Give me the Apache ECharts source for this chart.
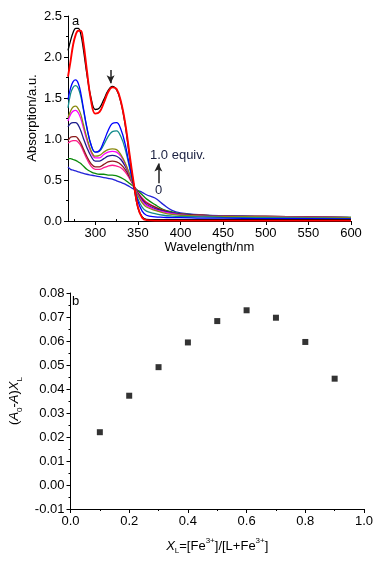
<!DOCTYPE html>
<html><head><meta charset="utf-8">
<script src="https://cdn.jsdelivr.net/npm/echarts@6/dist/echarts.min.js"></script>
<style>html,body{margin:0;padding:0;background:#fff}#c{width:386px;height:567px}</style>
</head><body><div id="c"></div>
<script>
// ---- Panel a: UV-vis titration spectra ----
const wavelengths = [268,271,274,277,280,283,286,290,295,300,305,310,315,320,325,330,335,340,345,350,355,360,370,380,390,400,425,450,500,550,600];
const specBlack   = [2.08,2.20,2.30,2.35,2.35,2.28,2.10,1.80,1.50,1.36,1.38,1.48,1.59,1.64,1.60,1.45,1.18,0.80,0.45,0.16,0.05,0.02,0.015,0.015,0.015,0.015,0.015,0.015,0.015,0.015,0.015];
const specRed     = [1.76,1.95,2.15,2.27,2.32,2.32,2.18,1.85,1.47,1.31,1.33,1.44,1.57,1.63,1.61,1.46,1.20,0.83,0.47,0.17,0.04,0.01,0.005,0.005,0.005,0.005,0.005,0.005,0.005,0.005,0.005];
const specBlue    = [1.48,1.62,1.70,1.72,1.68,1.56,1.38,1.15,0.93,0.84,0.86,0.97,1.10,1.19,1.20,1.12,0.94,0.68,0.44,0.24,0.12,0.07,0.05,0.045,0.04,0.04,0.035,0.035,0.03,0.03,0.025];
const specTeal    = [1.38,1.55,1.63,1.65,1.62,1.52,1.36,1.14,0.93,0.84,0.85,0.93,1.03,1.09,1.10,1.03,0.88,0.66,0.44,0.27,0.17,0.12,0.09,0.07,0.06,0.055,0.05,0.045,0.04,0.035,0.03];
const specOlive   = [1.26,1.34,1.39,1.40,1.37,1.30,1.18,1.02,0.86,0.79,0.80,0.84,0.87,0.88,0.87,0.81,0.71,0.58,0.43,0.31,0.22,0.17,0.13,0.10,0.08,0.07,0.06,0.055,0.05,0.045,0.04];
const specMagenta = [1.22,1.30,1.34,1.35,1.32,1.25,1.14,0.99,0.84,0.77,0.77,0.81,0.84,0.85,0.84,0.79,0.70,0.57,0.43,0.32,0.24,0.19,0.14,0.11,0.09,0.075,0.06,0.055,0.05,0.045,0.04];
const specNavy    = [1.15,1.19,1.20,1.20,1.17,1.10,1.01,0.90,0.79,0.73,0.73,0.76,0.79,0.80,0.79,0.75,0.67,0.56,0.43,0.33,0.25,0.20,0.15,0.12,0.10,0.08,0.065,0.06,0.05,0.045,0.04];
const specMaroon  = [0.98,1.02,1.03,1.03,1.00,0.95,0.88,0.79,0.70,0.66,0.66,0.69,0.72,0.73,0.72,0.69,0.63,0.54,0.43,0.34,0.27,0.22,0.17,0.13,0.10,0.085,0.07,0.06,0.055,0.05,0.04];
const specPink    = [0.95,0.97,0.98,0.98,0.96,0.92,0.85,0.76,0.67,0.63,0.63,0.65,0.67,0.68,0.67,0.65,0.60,0.52,0.43,0.35,0.28,0.23,0.17,0.13,0.10,0.085,0.07,0.06,0.055,0.05,0.04];
const specGreen   = [0.76,0.76,0.75,0.74,0.72,0.70,0.67,0.63,0.60,0.58,0.57,0.57,0.56,0.56,0.55,0.53,0.50,0.46,0.42,0.37,0.32,0.27,0.20,0.14,0.11,0.09,0.07,0.06,0.055,0.05,0.045];
const specRoyal   = [0.66,0.63,0.62,0.61,0.60,0.59,0.58,0.57,0.56,0.55,0.54,0.53,0.52,0.51,0.49,0.47,0.45,0.42,0.39,0.37,0.35,0.32,0.28,0.20,0.13,0.10,0.075,0.065,0.055,0.05,0.045];
const xTicksA = [300,350,400,450,500,550,600];
const xMinorA = [275,325,375,425,475,525,575];
const arrowDown = [[318,1.84],[318,1.68]];
const arrowUp = [[374,0.46],[374,0.70]];

// ---- Panel b: Job's plot ----
const jobX = [0.1,0.2,0.3,0.4,0.5,0.6,0.7,0.8,0.9];
const jobY = [0.0220,0.0372,0.0491,0.0594,0.0683,0.0728,0.0697,0.0596,0.0443];

const FONT = 'Liberation Sans, Arial, sans-serif';
const spectra = [
  {d: specRoyal, c:'#2323d8', w:1.3},
  {d: specGreen, c:'#0a8a0a', w:1.3},
  {d: specPink, c:'#ff1a8c', w:1.3},
  {d: specMaroon, c:'#8b1a1a', w:1.3},
  {d: specNavy, c:'#1c1c8c', w:1.3},
  {d: specMagenta, c:'#ff00ff', w:1.3},
  {d: specOlive, c:'#8a8a10', w:1.3},
  {d: specTeal, c:'#108a8a', w:1.3},
  {d: specBlue, c:'#0000ff', w:1.3},
  {d: specBlack, c:'#000000', w:1.3},
  {d: specRed, c:'#ff0000', w:1.9}
];

const axisCommon = {
  axisLine:{show:true, onZero:false, lineStyle:{color:'#000', width:1}},
  axisTick:{show:true, inside:false, length:4, lineStyle:{color:'#000', width:1}},
  axisLabel:{color:'#000', fontSize:13, fontFamily:FONT},
  splitLine:{show:false},
  nameTextStyle:{color:'#000', fontSize:13, fontFamily:FONT}
};

const series = spectra.map(s => ({
  type:'line', xAxisIndex:0, yAxisIndex:0,
  data: wavelengths.map((w,i)=>[w, s.d[i]]),
  showSymbol:false, smooth:0.4, clip:true,
  lineStyle:{color:s.c, width:s.w}, itemStyle:{color:s.c}, silent:true
}));
series.push({
  type:'line', xAxisIndex:0, yAxisIndex:0, data:[], silent:true,
  markLine:{silent:true, symbol:['none','arrow'], symbolSize:[6,8],
    lineStyle:{color:'#222', width:1.5, type:'solid'}, label:{show:false},
    data:[[{coord:arrowDown[0]},{coord:arrowDown[1]}],[{coord:arrowUp[0]},{coord:arrowUp[1]}]]}
});
series.push({
  type:'scatter', xAxisIndex:1, yAxisIndex:1,
  data: jobX.map((x,i)=>[x, jobY[i]]),
  symbol:'rect', symbolSize:6, itemStyle:{color:'#000'}
});

const option = {
  backgroundColor:'#fff',
  animation:false,
  textStyle:{fontFamily:FONT},
  grid:[
    {left:68, right:35, top:16, bottom:346},
    {left:68, right:22, top:293, bottom:58}
  ],
  xAxis:[
    Object.assign({}, axisCommon, {gridIndex:0, type:'value', min:268, max:600,
      axisTick:Object.assign({}, axisCommon.axisTick, {customValues:xTicksA}),
      axisLabel:Object.assign({}, axisCommon.axisLabel, {customValues:xTicksA, margin:6}),
      name:'Wavelength/nm', nameLocation:'middle', nameGap:20}),
    Object.assign({}, axisCommon, {gridIndex:1, type:'value', min:0, max:1, interval:0.2,
      minorTick:{show:true, splitNumber:2, length:2, lineStyle:{color:'#000'}},
      axisLabel:Object.assign({}, axisCommon.axisLabel, {margin:6, formatter:v=>v.toFixed(1)}),
      name:'{i|X}{sub|L}{n|=[Fe}{sup|3+}{n|]/[L+Fe}{sup|3+}{n|]}', nameLocation:'middle', nameGap:28,
      nameTextStyle:{color:'#000', fontSize:13, fontFamily:FONT, rich:{
        i:{fontStyle:'italic', fontSize:13, lineHeight:18, fontFamily:FONT, color:'#000'},
        n:{fontSize:13, lineHeight:18, fontFamily:FONT, color:'#000'},
        sub:{fontSize:8, lineHeight:9, verticalAlign:'bottom', fontFamily:FONT, color:'#000'},
        sup:{fontSize:8, lineHeight:9, verticalAlign:'top', fontFamily:FONT, color:'#000'}
      }}}),
    Object.assign({}, axisCommon, {gridIndex:0, type:'value', min:268, max:600,
      axisLine:{show:false}, axisLabel:{show:false},
      axisTick:{show:true, customValues:xMinorA, length:2, lineStyle:{color:'#000'}}})
  ],
  yAxis:[
    Object.assign({}, axisCommon, {gridIndex:0, type:'value', min:0, max:2.5, interval:0.5,
      minorTick:{show:true, splitNumber:2, length:2, lineStyle:{color:'#000'}},
      axisLabel:Object.assign({}, axisCommon.axisLabel, {margin:6, formatter:v=>v.toFixed(1)})}),
    Object.assign({}, axisCommon, {gridIndex:1, type:'value', min:-0.01, max:0.08, interval:0.01,
      minorTick:{show:true, splitNumber:2, length:2, lineStyle:{color:'#000'}},
      axisLabel:Object.assign({}, axisCommon.axisLabel, {margin:6, formatter:v=>v.toFixed(2)}),
      name:'{n|(}{i|A}{sub|0}{n|-}{i|A}{n|)}{i|X}{sub|L}', nameLocation:'middle', nameRotate:90, nameGap:47,
      nameTextStyle:{color:'#000', fontSize:13, fontFamily:FONT, rich:{
        i:{fontStyle:'italic', fontSize:13, lineHeight:18, fontFamily:FONT, color:'#000'},
        n:{fontSize:13, lineHeight:18, fontFamily:FONT, color:'#000'},
        sub:{fontSize:8, lineHeight:9, verticalAlign:'bottom', fontFamily:FONT, color:'#000'}
      }}})
  ],
  graphic:[
    {type:'text', x:32, y:118, rotation:Math.PI/2, style:{text:'Absorption/a.u.', fontSize:13, fontFamily:FONT, fill:'#000', align:'center', verticalAlign:'middle'}},
    {type:'text', left:72, top:15, style:{text:'a', fontSize:13, fontFamily:FONT, fill:'#000'}},
    {type:'text', left:150, top:149, style:{text:'1.0 equiv.', fontSize:13, fontFamily:FONT, fill:'#1a2040'}},
    {type:'text', left:155, top:184, style:{text:'0', fontSize:13, fontFamily:FONT, fill:'#1a2040'}},
    {type:'text', left:72, top:295, style:{text:'b', fontSize:13, fontFamily:FONT, fill:'#000'}}
  ],
  series: series
};
const chart = echarts.init(document.getElementById('c'), null, {renderer:'canvas'});
chart.setOption(option);
</script></body></html>
